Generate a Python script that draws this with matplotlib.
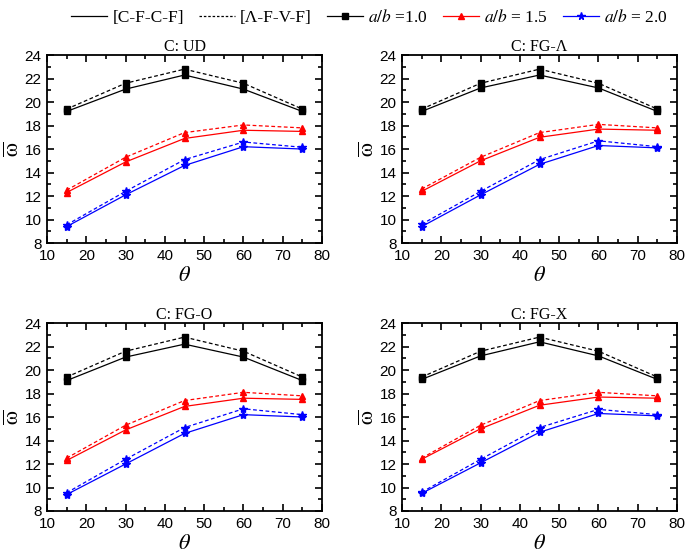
import matplotlib
matplotlib.use("Agg")
import matplotlib.pyplot as plt
from matplotlib.lines import Line2D
from matplotlib.ticker import MultipleLocator

plt.rcParams["mathtext.fontset"] = "stix"

# angle values on the x axis
theta = [15, 30, 45, 60, 75]

# panel titles
titles = ["C: UD", "C: FG-\u039b", "C: FG-O", "C: FG-X"]

# frequencies for each panel, solid = [C-F-C-F], dashed = [Λ-F-V-F]
ud_10_solid = [19.2, 21.1, 22.3, 21.1, 19.2]
ud_10_dash = [19.4, 21.6, 22.8, 21.6, 19.4]
ud_15_solid = [12.3, 14.9, 16.9, 17.6, 17.5]
ud_15_dash = [12.5, 15.3, 17.4, 18.05, 17.8]
ud_20_solid = [9.4, 12.1, 14.6, 16.2, 16.0]
ud_20_dash = [9.55, 12.4, 15.1, 16.6, 16.15]

lam_10_solid = [19.2, 21.2, 22.3, 21.2, 19.2]
lam_10_dash = [19.4, 21.6, 22.8, 21.6, 19.4]
lam_15_solid = [12.4, 15.0, 17.0, 17.7, 17.6]
lam_15_dash = [12.6, 15.3, 17.4, 18.1, 17.8]
lam_20_solid = [9.4, 12.1, 14.7, 16.3, 16.1]
lam_20_dash = [9.6, 12.4, 15.1, 16.7, 16.2]

o_10_solid = [19.1, 21.1, 22.2, 21.1, 19.1]
o_10_dash = [19.4, 21.6, 22.8, 21.6, 19.4]
o_15_solid = [12.3, 14.9, 16.9, 17.6, 17.5]
o_15_dash = [12.5, 15.3, 17.4, 18.1, 17.8]
o_20_solid = [9.4, 12.0, 14.6, 16.2, 16.0]
o_20_dash = [9.55, 12.4, 15.1, 16.7, 16.2]

x_10_solid = [19.2, 21.2, 22.4, 21.2, 19.2]
x_10_dash = [19.4, 21.6, 22.8, 21.6, 19.4]
x_15_solid = [12.4, 15.0, 17.0, 17.7, 17.6]
x_15_dash = [12.5, 15.3, 17.4, 18.1, 17.8]
x_20_solid = [9.5, 12.1, 14.7, 16.3, 16.1]
x_20_dash = [9.6, 12.4, 15.1, 16.65, 16.2]

panels = [
    [ud_10_solid, ud_10_dash, ud_15_solid, ud_15_dash, ud_20_solid, ud_20_dash],
    [lam_10_solid, lam_10_dash, lam_15_solid, lam_15_dash, lam_20_solid, lam_20_dash],
    [o_10_solid, o_10_dash, o_15_solid, o_15_dash, o_20_solid, o_20_dash],
    [x_10_solid, x_10_dash, x_15_solid, x_15_dash, x_20_solid, x_20_dash],
]

colors = ["black", "red", "blue"]
markers = ["s", "^", "*"]
msizes = [4.5, 5, 6]

fig = plt.figure(figsize=(6.85, 5.6), dpi=100)

positions = [
    [0.0686, 0.566, 0.4015, 0.3357],
    [0.5869, 0.566, 0.4015, 0.3357],
    [0.0686, 0.0875, 0.4015, 0.3357],
    [0.5869, 0.0875, 0.4015, 0.3357],
]

for i in range(4):
    ax = fig.add_axes(positions[i])
    data = panels[i]
    for k in range(3):
        ax.plot(theta, data[2 * k], color=colors[k], marker=markers[k],
                markersize=msizes[k], linewidth=0.9, linestyle="-")
        ax.plot(theta, data[2 * k + 1], color=colors[k], marker=markers[k],
                markersize=msizes[k], linewidth=0.9, linestyle=(0, (3, 2)))
    ax.set_xlim(10, 80)
    ax.set_ylim(8, 24)
    ax.xaxis.set_major_locator(MultipleLocator(10))
    ax.xaxis.set_minor_locator(MultipleLocator(5))
    ax.yaxis.set_major_locator(MultipleLocator(2))
    ax.yaxis.set_minor_locator(MultipleLocator(1))
    ax.tick_params(which="both", direction="in", top=True, right=True, width=1.2)
    ax.tick_params(which="major", length=5, labelsize=11, pad=4)
    ax.tick_params(which="minor", length=3)
    for lab in ax.get_xticklabels() + ax.get_yticklabels():
        lab.set_fontfamily("Liberation Sans")
    for sp in ax.spines.values():
        sp.set_linewidth(1.3)
    ax.set_title(titles[i], fontfamily="Liberation Serif", fontsize=11.5, pad=3)
    ax.set_xlabel(r"$\theta$", fontsize=16, labelpad=2)
    ax.set_ylabel(r"$\overline{\mathrm{\omega}}$", fontsize=16, labelpad=1)

handles = [
    Line2D([], [], color="black", linewidth=0.9),
    Line2D([], [], color="black", linewidth=0.9, linestyle=(0, (2, 1.5))),
    Line2D([], [], color="black", linewidth=0.9, marker="s", markersize=4),
    Line2D([], [], color="red", linewidth=0.9, marker="^", markersize=4.5),
    Line2D([], [], color="blue", linewidth=0.9, marker="*", markersize=5.5),
]
labels = ["[C-F-C-F]", "[\u039b-F-V-F]", r"$a/b$ =1.0", r"$a/b$ = 1.5", r"$a/b$ = 2.0"]
leg = fig.legend(handles, labels, loc="upper left", bbox_to_anchor=(0.093, 0.997), ncol=5,
                 frameon=False, prop={"family": "Liberation Serif", "size": 12.5},
                 handlelength=2.1, columnspacing=0.85, handletextpad=0.3, borderaxespad=0)

fig.savefig("out.png", dpi=100)
